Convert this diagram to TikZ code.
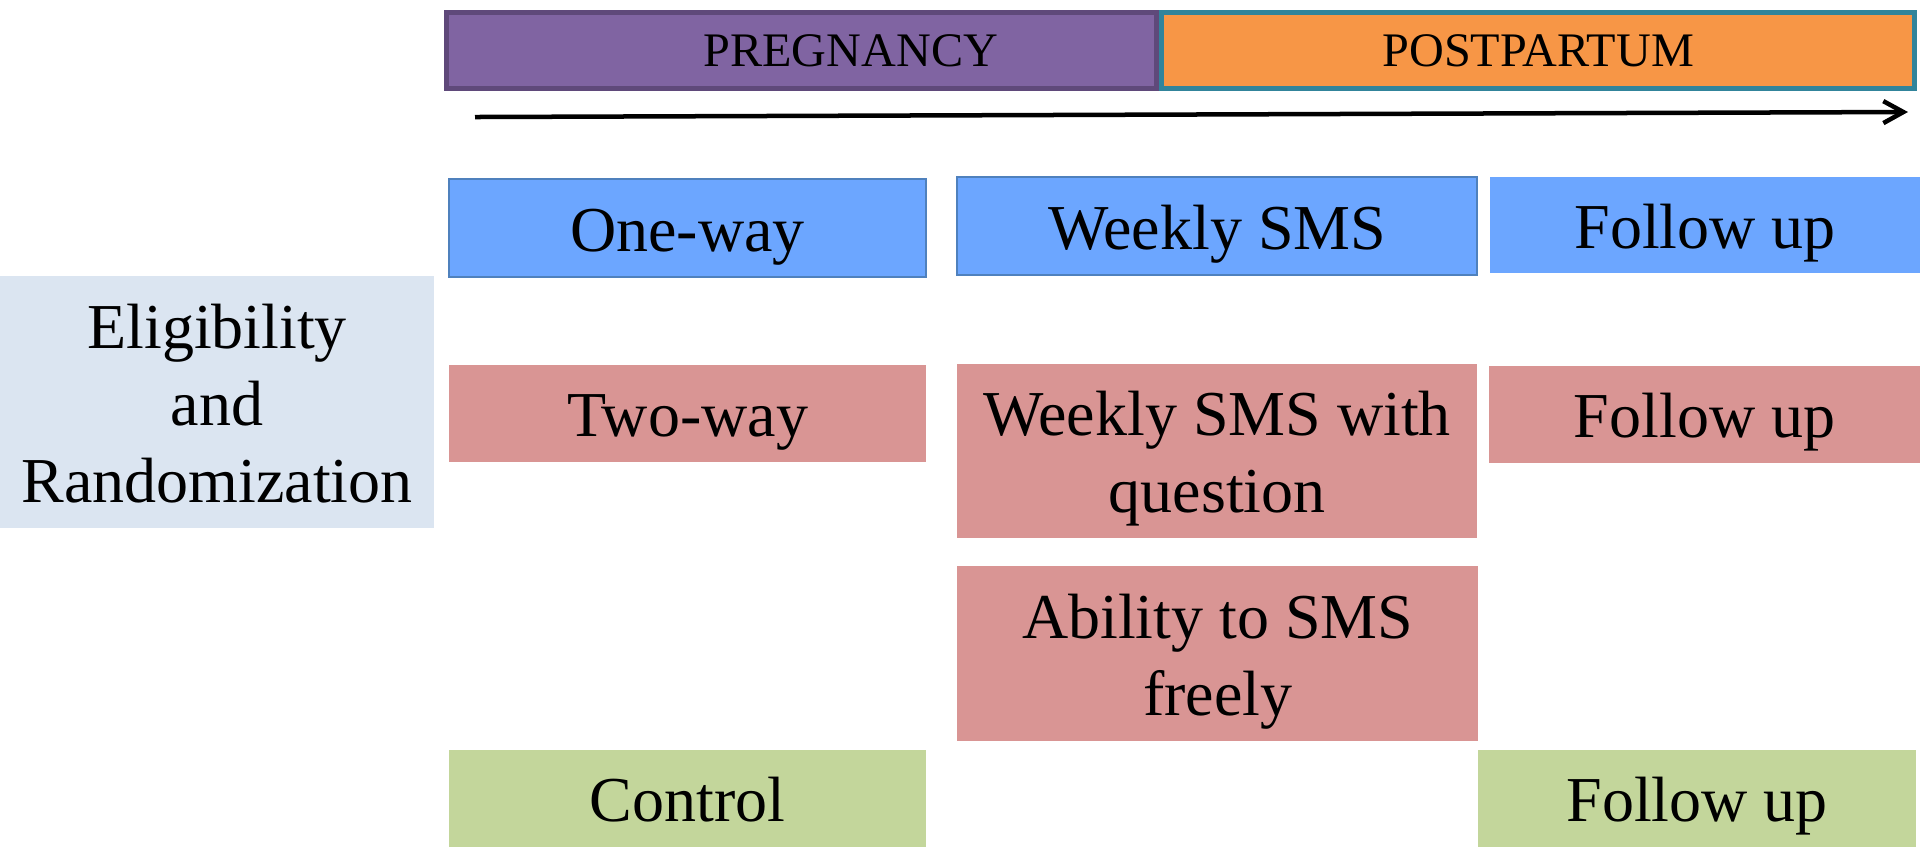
\documentclass[tikz,border=0pt]{standalone}
\usepackage{fontspec}
\setmainfont{Liberation Serif}
\usetikzlibrary{arrows.meta}
\definecolor{pregfill}{RGB}{128,100,162}
\definecolor{pregline}{RGB}{95,73,122}
\definecolor{postfill}{RGB}{247,150,70}
\definecolor{postline}{RGB}{49,132,155}
\definecolor{onefill}{RGB}{108,166,255}
\definecolor{oneline}{RGB}{79,129,189}
\definecolor{twofill}{RGB}{217,149,148}
\definecolor{ctrlfill}{RGB}{195,214,155}
\definecolor{eligfill}{RGB}{219,229,241}
\newcommand{\armtext}[1]{\raisebox{-0.08cm}[\height][\depth]{\begin{tabular}{@{}c@{}}#1\end{tabular}}}

\begin{document}
\begin{tikzpicture}[x=0.01cm, y=-0.01cm, inner sep=0pt, outer sep=0pt,
	 phasebox/.style={draw, line width=0.05cm, anchor=north west, minimum height=0.76cm,
	   font=\fontsize{13.7}{16}\selectfont},
	 armbox/.style={anchor=north west, font=\fontsize{18.2}{21.9}\selectfont}]
	    \useasboundingbox (0,0) rectangle (1920,850);
	    % phases on top
	    \node (preg) at (446.5,12.5) [phasebox, draw=pregline, fill=pregfill, minimum width=7.1cm]
	        {\hspace*{0.98cm}PREGNANCY};
	    \node (post) at (1161.5,12.5) [phasebox, draw=postline, fill=postfill, minimum width=7.53cm] {POSTPARTUM};
	    \coordinate (tstart) at (475,117);
	    \coordinate (tend) at (1908,112);
	    \draw[line width=0.045cm, -{Straight Barb[length=0.2cm, width=0.22cm, line width=0.045cm]}] (tstart) -- (tend);
	    % randomization
	    \node (elig) at (0,276) [armbox, fill=eligfill, minimum width=4.34cm, minimum height=2.52cm]
	        {\armtext{Eligibility\\and\\Randomization}};
	    % one-way arm
	    \node (oneway) at (449,179) [armbox, fill=onefill, draw=oneline, line width=0.02cm,
	        minimum width=4.77cm, minimum height=0.98cm] {\armtext{One-way}};
	    \node (weekly) at (957,177) [armbox, fill=onefill, draw=oneline, line width=0.02cm,
	        minimum width=5.2cm, minimum height=0.98cm] {\armtext{Weekly SMS}};
	    \node (fuone) at (1490,177) [armbox, fill=onefill, minimum width=4.3cm, minimum height=0.96cm] {\armtext{Follow up}};
	    % two-way arm
	    \node (twoway) at (449,365) [armbox, fill=twofill, minimum width=4.77cm, minimum height=0.97cm] {\armtext{Two-way}};
	    \node (wquest) at (957,364) [armbox, fill=twofill, minimum width=5.2cm, minimum height=1.74cm]
	        {\armtext{Weekly SMS with\\question}};
	    \node (futwo) at (1489,366) [armbox, fill=twofill, minimum width=4.31cm, minimum height=0.97cm] {\armtext{Follow up}};
	    \node (ability) at (957,566) [armbox, fill=twofill, minimum width=5.21cm, minimum height=1.75cm]
	        {\armtext{Ability to SMS\\freely}};
	    % control arm
	    \node (control) at (449,750) [armbox, fill=ctrlfill, minimum width=4.77cm, minimum height=0.97cm] {\armtext{Control}};
	    \node (fuctrl) at (1478,750) [armbox, fill=ctrlfill, minimum width=4.38cm, minimum height=0.97cm] {\armtext{Follow up}};
	 \end{tikzpicture}
\end{document}
